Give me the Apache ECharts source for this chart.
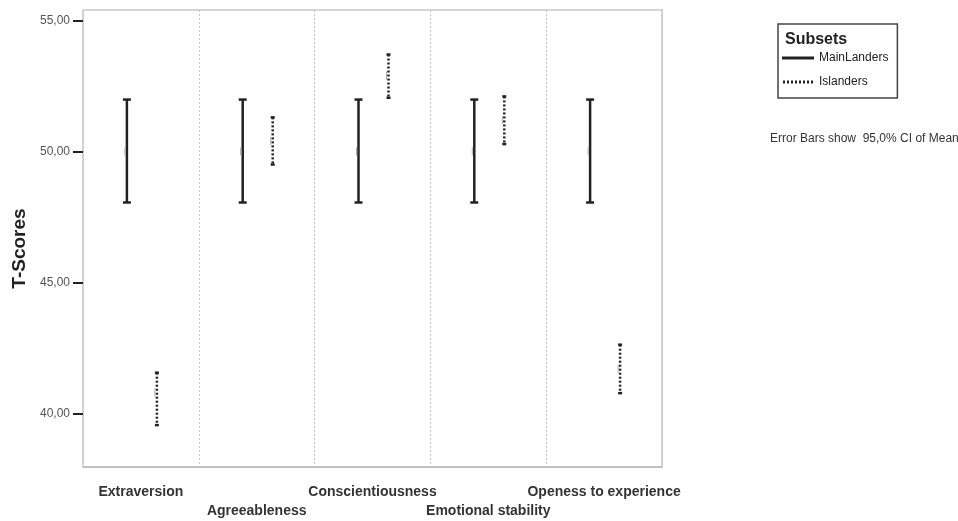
<!DOCTYPE html>
<html>
<head>
<meta charset="utf-8">
<script src="https://cdn.jsdelivr.net/npm/echarts@6/dist/echarts.min.js"></script>
<style>
  html, body { margin: 0; padding: 0; background: #fff; }
  #chart { width: 958px; height: 521px; }
</style>
</head>
<body>
<div id="chart"></div>
<script>
// T-scores per trait, 95% CI of mean, two subsets
var categories = ['Extraversion', 'Agreeableness', 'Conscientiousness', 'Emotional stability', 'Openess to experience'];
var mainLow  = [48.05, 48.05, 48.05, 48.05, 48.05];
var mainHigh = [51.98, 51.98, 51.98, 51.98, 51.98];
var mainMean = [50.0, 50.0, 50.0, 50.0, 50.0];
var islLow   = [39.55, 49.5, 52.05, 50.28, 40.77];
var islHigh  = [41.55, 51.3, 53.7, 52.1, 42.62];
var islMean  = [40.8, 50.4, 52.9, 51.2, 41.7];
var yTicks = [40, 45, 50, 55];

var FONT = "'Liberation Sans Narrow', 'Arial Narrow', 'Liberation Sans', sans-serif";

function rows(low, high, mean) {
    return categories.map(function (c, i) { return [i, low[i], high[i], mean[i]]; });
}

// draws one error bar: vertical line + caps + faint mean mark
function errorBar(offset, dotted, capHalf) {
    return function (params, api) {
        var i = api.value(0);
        var lo = api.coord([i, api.value(1)]);
        var hi = api.coord([i, api.value(2)]);
        var md = api.coord([i, api.value(3)]);
        var x = lo[0] + offset;
        var st = { stroke: '#222', lineWidth: 2.5 };
        if (dotted) st.lineDash = [2, 2];
        return {
            type: 'group',
            children: [
                { type: 'line', shape: { x1: x, y1: hi[1], x2: x, y2: lo[1] }, style: st },
                { type: 'line', shape: { x1: x - capHalf, y1: hi[1], x2: x + capHalf, y2: hi[1] }, style: { stroke: '#222', lineWidth: 2.5 } },
                { type: 'line', shape: { x1: x - capHalf, y1: lo[1], x2: x + capHalf, y2: lo[1] }, style: { stroke: '#222', lineWidth: 2.5 } },
                { type: 'line', shape: { x1: x - 2, y1: md[1] - 4, x2: x - 2, y2: md[1] + 4 }, style: { stroke: '#aaa', lineWidth: 1 } }
            ]
        };
    };
}

var solidIcon = 'path://M0,0H32V3H0Z';
var dotIcon = 'path://M0,0H2V3H0Z M4,0H6V3H4Z M8,0H10V3H8Z M12,0H14V3H12Z M16,0H18V3H16Z M20,0H22V3H20Z M24,0H26V3H24Z M28,0H30V3H28Z';

var chart = echarts.init(document.getElementById('chart'));
chart.setOption({
    backgroundColor: '#fff',
    animation: false,
    grid: { left: 83, right: 296, top: 10, bottom: 54, show: true, borderColor: '#c8c8c8', borderWidth: 1.5 },
    xAxis: {
        type: 'category',
        data: categories,
        boundaryGap: true,
        axisLine: { lineStyle: { color: '#bbb', width: 1.5 } },
        axisTick: { alignWithLabel: true, length: 6, lineStyle: { color: '#222', width: 2 } },
        splitLine: { show: true, lineStyle: { color: '#c8c8c8', type: [2, 2], width: 1 } },
        axisLabel: {
            interval: 0,
            hideOverlap: false,
            margin: 16,
            lineHeight: 19,
            fontFamily: FONT,
            fontSize: 14,
            fontWeight: 'bold',
            color: '#333',
            formatter: function (v, i) { return i % 2 ? '\n' + v : v; }
        }
    },
    yAxis: {
        type: 'value',
        min: 37.95,
        max: 55.4,
        name: 'T-Scores',
        nameLocation: 'middle',
        nameGap: 52,
        nameTextStyle: { fontFamily: "'Liberation Sans', Arial, sans-serif", fontSize: 19, fontWeight: 'bold', color: '#222', padding: [0, 20, 0, 0] },
        axisLine: { show: false },
        axisTick: { show: true, customValues: yTicks, length: 10, lineStyle: { color: '#222', width: 2 } },
        splitLine: { show: false },
        axisLabel: {
            customValues: yTicks,
            margin: 13,
            fontFamily: FONT,
            fontSize: 12,
            color: '#555',
            formatter: function (v) { return v.toFixed(2).replace('.', ','); }
        }
    },
    legend: {
        orient: 'vertical',
        left: 778,
        top: 24,
        padding: [28, 9, 10, 4],
        itemGap: 12,
        itemWidth: 32,
        itemHeight: 3,
        itemSymbolKeepAspect: false,
        borderColor: '#444',
        borderWidth: 1.5,
        textStyle: { fontFamily: FONT, fontSize: 12, color: '#222' },
        data: [
            { name: 'MainLanders', icon: solidIcon },
            { name: 'Islanders', icon: dotIcon }
        ]
    },
    graphic: [
        { type: 'text', left: 785, top: 32, style: { text: 'Subsets', font: 'bold 16px ' + FONT, fill: '#222' } },
        { type: 'text', left: 770, top: 133, style: { text: 'Error Bars show  95,0% CI of Mean', font: '12px ' + FONT, fill: '#333' } }
    ],
    series: [
        {
            name: 'MainLanders',
            type: 'custom',
            itemStyle: { color: '#222' },
            renderItem: errorBar(-14, false, 4),
            encode: { x: 0, y: [1, 2, 3] },
            data: rows(mainLow, mainHigh, mainMean)
        },
        {
            name: 'Islanders',
            type: 'custom',
            itemStyle: { color: '#222' },
            renderItem: errorBar(16, true, 2),
            encode: { x: 0, y: [1, 2, 3] },
            data: rows(islLow, islHigh, islMean)
        }
    ]
});
</script>
</body>
</html>
